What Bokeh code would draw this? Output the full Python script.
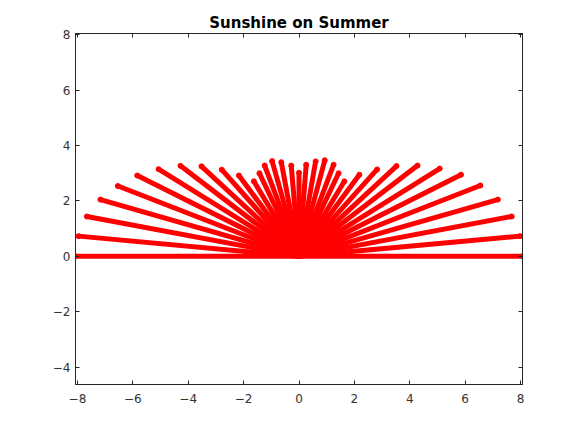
from bokeh.plotting import figure
from bokeh.models import LinearAxis, FixedTicker, Range1d, ColumnDataSource
from bokeh.embed import file_html
from bokeh.resources import INLINE

# Ray end points (all rays start at the origin)
ray_x = [8.07, 7.98, 7.68, 7.18, 6.55, 5.85, 5.08, 4.28, 3.52, 2.82, 2.18, 1.64,
         1.43, 1.25, 0.93, 0.60, 0.26, 0.0, -0.28, -0.64, -0.97, -1.24, -1.43,
         -1.63, -2.17, -2.79, -3.52, -4.28, -5.07, -5.84, -6.54, -7.17, -7.66,
         -7.96, -8.07]
ray_y = [0.0, 0.73, 1.44, 2.05, 2.56, 2.95, 3.17, 3.28, 3.26, 3.14, 2.95, 2.71,
         3.00, 3.31, 3.47, 3.43, 3.31, 3.02, 3.28, 3.40, 3.44, 3.28, 3.00,
         2.71, 2.92, 3.13, 3.25, 3.27, 3.15, 2.92, 2.54, 2.05, 1.44, 0.73, 0.0]
x_ticks = [-8, -6, -4, -2, 0, 2, 4, 6, 8]
y_ticks = [-4, -2, 0, 2, 4, 6, 8]
title_text = "Sunshine on Summer"

src = ColumnDataSource(dict(x0=[0.0] * len(ray_x), y0=[0.0] * len(ray_y), x1=ray_x, y1=ray_y))

p = figure(width=561, height=417, output_backend="svg", toolbar_location=None,
           x_range=Range1d(-8.07, 8.07), y_range=Range1d(-4.63, 8.05),
           min_border_left=75, min_border_right=39, min_border_top=33, min_border_bottom=33,
           title=title_text)
p.title.align = "center"
p.title.text_font = "DejaVu Sans"
p.title.text_font_size = "15px"
p.title.text_font_style = "bold"
p.title.text_color = "#000000"
p.title.standoff = 3

p.segment(x0="x0", y0="y0", x1="x1", y1="y1", source=src, line_color="#ff0000", line_width=5)
p.scatter(x="x1", y="y1", source=src, size=5, color="#ff0000")

p.grid.visible = False
p.outline_line_color = "#262626"
p.outline_line_width = 1
p.background_fill_color = "white"
p.border_fill_color = "white"

def style(ax, ticks, labels=True):
    ax.ticker = FixedTicker(ticks=ticks)
    ax.minor_tick_line_color = None
    ax.major_tick_in = 4
    ax.major_tick_out = 0
    ax.axis_line_color = "#262626"
    ax.major_tick_line_color = "#262626"
    ax.major_label_text_font = "DejaVu Sans"
    ax.major_label_text_font_size = "12px"
    if labels:
        ax.major_label_text_color = "#333333"
    else:
        ax.major_label_text_color = None
        ax.major_label_standoff = 0

style(p.xaxis[0], x_ticks)
p.xaxis[0].major_label_standoff = 9
style(p.yaxis[0], y_ticks)
p.yaxis[0].major_label_standoff = 5

top = LinearAxis()
style(top, x_ticks, labels=False)
p.add_layout(top, "above")
right = LinearAxis()
style(right, y_ticks, labels=False)
p.add_layout(right, "right")

open("out.html", "w").write(file_html(p, INLINE))
